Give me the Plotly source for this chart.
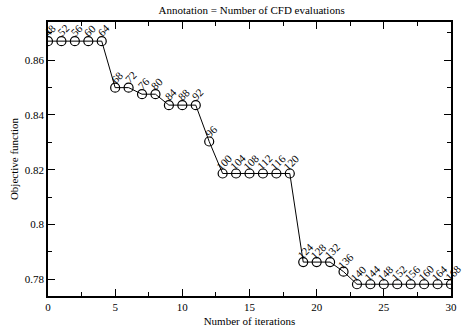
import plotly.graph_objects as go

iterations = list(range(31))
objective = [0.867, 0.867, 0.867, 0.867, 0.867,
             0.850, 0.850, 0.8476, 0.8476,
             0.8436, 0.8436, 0.8436,
             0.8303,
             0.8186, 0.8186, 0.8186, 0.8186, 0.8186, 0.8186,
             0.7862, 0.7862, 0.7862,
             0.7827,
             0.7781, 0.7781, 0.7781, 0.7781, 0.7781, 0.7781, 0.7781, 0.7781]
cfd_evals = [48, 52, 56, 60, 64, 68, 72, 76, 80, 84, 88, 92, 96, 100, 104, 108,
             112, 116, 120, 124, 128, 132, 136, 140, 144, 148, 152, 156, 160, 164, 168]
x_ticks = [0, 5, 10, 15, 20, 25, 30]
y_ticks = [0.78, 0.80, 0.82, 0.84, 0.86]
y_tick_labels = ["0.78", "0.8", "0.82", "0.84", "0.86"]

FONT = "Liberation Serif"

fig = go.Figure()
fig.add_trace(go.Scatter(
    x=iterations, y=objective, mode="lines+markers",
    line=dict(color="black", width=1),
    marker=dict(symbol="circle-open", size=9, color="black", line=dict(width=1.2)),
    showlegend=False,
))

for xi, yi, lab in zip(iterations, objective, cfd_evals):
    fig.add_annotation(
        x=xi, y=yi, xref="x", yref="y", text=str(lab), showarrow=False,
        textangle=-45, xshift=2, yshift=11,
        font=dict(family=FONT, size=11, color="black"),
    )

axis_common = dict(
    showgrid=False, zeroline=False, showline=True, linecolor="black", linewidth=1.5,
    mirror="allticks", ticks="inside", ticklen=7, tickwidth=1, tickcolor="black",
    tickfont=dict(family=FONT, size=11, color="black"),
)

fig.update_xaxes(
    range=[0, 30], tickvals=x_ticks,
    minor=dict(ticks="inside", ticklen=4, dtick=2.5, tick0=0, tickcolor="black", tickwidth=1),
    title=dict(text="Number of iterations", font=dict(family=FONT, size=11, color="black"), standoff=5),
    **axis_common,
)
fig.update_yaxes(
    range=[0.7738, 0.874], tickvals=y_ticks, ticktext=y_tick_labels,
    minor=dict(ticks="inside", ticklen=4, dtick=0.01, tick0=0.78, tickcolor="black", tickwidth=1),
    title=dict(text="Objective function", font=dict(family=FONT, size=11, color="black"), standoff=4),
    **axis_common,
)

fig.update_layout(
    width=466, height=335,
    margin=dict(l=48, r=9, t=22, b=27),
    paper_bgcolor="white", plot_bgcolor="white",
    title=dict(text="Annotation = Number of CFD evaluations", x=0.54, xanchor="center",
               y=0.97, yanchor="middle", font=dict(family=FONT, size=11, color="black")),
)

fig.write_html("out.html")
